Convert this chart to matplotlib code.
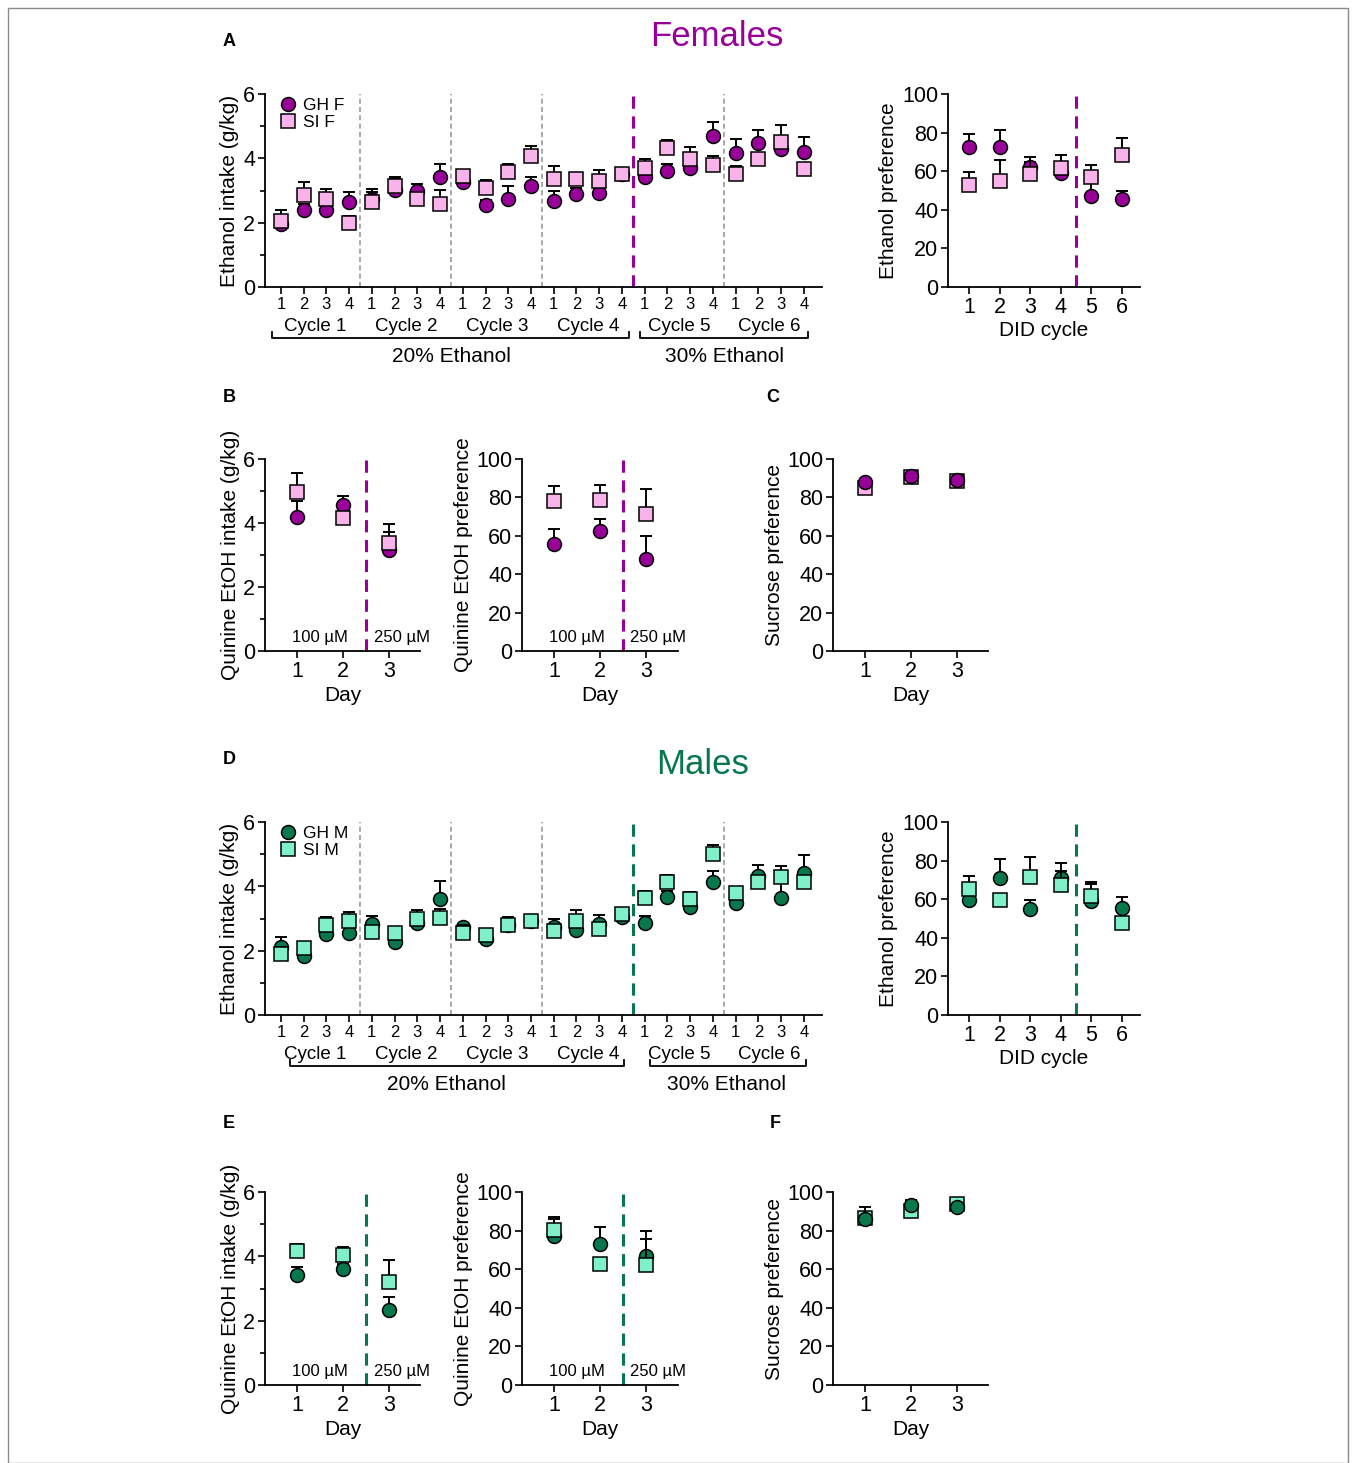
import numpy as np
import matplotlib
matplotlib.use("Agg")
import matplotlib.pyplot as plt
from matplotlib.lines import Line2D
from matplotlib.patches import Rectangle

plt.rcParams['font.family'] = ['Liberation Sans', 'DejaVu Sans']

# ---------------- data ----------------
day_labels = ["1", "2", "3", "4"] * 6
cycle_labels = ["Cycle 1", "Cycle 2", "Cycle 3", "Cycle 4", "Cycle 5", "Cycle 6"]
conc_labels = ["20% Ethanol", "30% Ethanol"]
did_cycles = [1, 2, 3, 4, 5, 6]
test_days = [1, 2, 3]
quinine_labels = ["100 µM", "250 µM"]

# Females - DID ethanol intake (g/kg), mean and upper SEM
f_gh_intake = [1.95, 2.39, 2.39, 2.63, 2.75, 3.01, 2.98, 3.41, 3.25, 2.55, 2.75, 3.14,
               2.66, 2.88, 2.93, 3.50, 3.43, 3.61, 3.69, 4.70, 4.16, 4.47, 4.29, 4.20]
f_gh_intake_err = [0.30, 0.20, 0.15, 0.33, 0.20, 0.34, 0.21, 0.41, 0.10, 0.15, 0.40, 0.27,
                   0.32, 0.20, 0.12, 0.10, 0.10, 0.22, 0.15, 0.44, 0.44, 0.42, 0.15, 0.46]
f_si_intake = [2.06, 2.86, 2.75, 2.00, 2.65, 3.14, 2.75, 2.58, 3.46, 3.08, 3.57, 4.07,
               3.35, 3.35, 3.30, 3.51, 3.69, 4.31, 3.97, 3.78, 3.50, 3.99, 4.50, 3.68]
f_si_intake_err = [0.33, 0.39, 0.31, 0.21, 0.41, 0.27, 0.15, 0.43, 0.15, 0.24, 0.26, 0.32,
                   0.42, 0.15, 0.33, 0.14, 0.29, 0.26, 0.39, 0.29, 0.27, 0.15, 0.54, 0.15]

# Females - ethanol preference per DID cycle
f_gh_pref = [72.7, 72.3, 62.0, 59.2, 47.1, 45.5]
f_gh_pref_err = [6.4, 9.0, 3.0, 4.5, 7.0, 4.2]
f_si_pref = [53.1, 54.8, 58.8, 61.4, 57.1, 68.3]
f_si_pref_err = [6.4, 10.9, 8.3, 7.1, 6.2, 8.7]

# Females - quinine adulterated ethanol
f_gh_quin = [4.18, 4.55, 3.15]
f_gh_quin_err = [0.52, 0.30, 0.57]
f_si_quin = [4.96, 4.16, 3.37]
f_si_quin_err = [0.61, 0.12, 0.59]
f_gh_quin_pref = [55.9, 62.3, 47.8]
f_gh_quin_pref_err = [7.8, 6.6, 11.9]
f_si_quin_pref = [77.9, 78.7, 71.5]
f_si_quin_pref_err = [8.1, 8.0, 12.9]

# Females - sucrose preference
f_gh_suc = [87.8, 91.2, 89.0]
f_gh_suc_err = [1.5, 1.5, 1.5]
f_si_suc = [85.1, 90.5, 88.5]
f_si_suc_err = [2.0, 1.5, 3.4]

# Males - DID ethanol intake (g/kg)
m_gh_intake = [2.11, 1.82, 2.52, 2.56, 2.83, 2.28, 2.87, 3.62, 2.73, 2.37, 2.81, 2.91,
               2.75, 2.63, 2.83, 3.06, 2.86, 3.67, 3.35, 4.13, 3.49, 4.32, 3.63, 4.43]
m_gh_intake_err = [0.30, 0.15, 0.15, 0.20, 0.25, 0.20, 0.20, 0.55, 0.10, 0.10, 0.20, 0.10,
                   0.24, 0.20, 0.29, 0.10, 0.22, 0.20, 0.15, 0.36, 0.15, 0.34, 0.55, 0.54]
m_si_intake = [1.90, 2.09, 2.81, 2.92, 2.58, 2.56, 2.99, 3.02, 2.54, 2.49, 2.81, 2.92,
               2.60, 2.91, 2.66, 3.14, 3.64, 4.15, 3.60, 5.02, 3.79, 4.13, 4.28, 4.13]
m_si_intake_err = [0.20, 0.17, 0.23, 0.28, 0.20, 0.16, 0.27, 0.26, 0.27, 0.19, 0.25, 0.12,
                   0.15, 0.36, 0.10, 0.20, 0.20, 0.21, 0.21, 0.27, 0.16, 0.20, 0.34, 0.15]

# Males - ethanol preference per DID cycle
m_gh_pref = [59.7, 70.9, 55.0, 70.9, 59.0, 55.4]
m_gh_pref_err = [3.0, 10.1, 4.7, 8.0, 8.7, 5.7]
m_si_pref = [65.1, 59.7, 71.5, 67.6, 61.9, 47.6]
m_si_pref_err = [6.9, 3.0, 10.2, 7.0, 6.8, 3.0]

# Males - quinine adulterated ethanol
m_gh_quin = [3.41, 3.62, 2.32]
m_gh_quin_err = [0.25, 0.15, 0.43]
m_si_quin = [4.18, 4.05, 3.20]
m_si_quin_err = [0.21, 0.23, 0.69]
m_gh_quin_pref = [77.3, 73.2, 66.6]
m_gh_quin_pref_err = [9.7, 8.6, 9.2]
m_si_quin_pref = [80.4, 62.6, 62.3]
m_si_quin_pref_err = [5.6, 3.0, 17.6]

# Males - sucrose preference
m_gh_suc = [86.1, 93.4, 92.2]
m_gh_suc_err = [6.1, 1.5, 1.5]
m_si_suc = [86.6, 90.1, 93.6]
m_si_suc_err = [1.5, 5.6, 1.0]

# ---------------- style ----------------
PURPLE = "#990099"
PINK = "#f8b4ea"
GREEN = "#08774c"
AQUA = "#80f0c8"
W, H = 1356, 1463
MS = 10


def add_ax(fig, x0, y0, x1, y1):
    # pixel box measured from the top-left corner of the image
    return fig.add_axes([x0 / W, 1 - y1 / H, (x1 - x0) / W, (y1 - y0) / H])


def style(ax, ylim, yticks, minor=None):
    for s in ["top", "right"]:
        ax.spines[s].set_visible(False)
    for s in ["left", "bottom"]:
        ax.spines[s].set_linewidth(1.3)
    ax.set_ylim(*ylim)
    ax.set_yticks(yticks)
    if minor is not None:
        ax.set_yticks(minor, minor=True)
    ax.tick_params(axis="both", which="major", length=5, width=1.2, labelsize=15.5, pad=2)
    ax.tick_params(axis="y", which="minor", length=3.5, width=1.2)


def series(ax, x, y, err, marker, color, z):
    ax.errorbar(x, y, yerr=[np.zeros(len(err)), err], fmt="none", ecolor="black",
                elinewidth=1.4, capsize=4.5, capthick=1.4, zorder=z, clip_on=False)
    ax.plot(x, y, ls="none", marker=marker, ms=MS, mfc=color, mec="black",
            mew=1.1, zorder=z + 0.5, clip_on=False)


def vdash(ax, xpos, color, lw, dashes):
    ax.plot([xpos, xpos], [0, 1], color=color, lw=lw, dashes=dashes,
            transform=ax.get_xaxis_transform(), zorder=1, clip_on=False)


def intake_panel(ax, gh, gh_err, si, si_err, c_gh, c_si, c_dash, names, brackets, text_x):
    x = np.arange(1, len(gh) + 1)
    style(ax, (0, 6), [0, 2, 4, 6], [1, 3, 5])
    ax.set_xlim(0.3, 24.8)
    ax.set_xticks(x)
    ax.set_xticklabels(day_labels)
    ax.tick_params(axis="x", labelsize=12, length=5, pad=2)
    for xs in [4.5, 8.5, 12.5, 20.5]:
        vdash(ax, xs, "#999999", 1.2, (3, 2))
    vdash(ax, 16.5, c_dash, 2.2, (4, 2.5))
    series(ax, x, gh, gh_err, "o", c_gh, 2)
    series(ax, x, si, si_err, "s", c_si, 4)
    ax.set_ylabel("Ethanol intake (g/kg)", fontsize=15, labelpad=3)
    tr = ax.get_xaxis_transform()
    for i, lab in enumerate(cycle_labels):
        ax.text(2.5 + 4 * i, -0.205, lab, transform=tr, ha="center", va="center",
                fontsize=13.5)
    for (xa, xb), tx, lab in zip(brackets, text_x, conc_labels):
        ax.plot([xa, xa, xb, xb], [-0.235, -0.265, -0.265, -0.235], color="black",
                lw=1.3, transform=tr, clip_on=False)
        ax.text(tx, -0.36, lab, transform=tr, ha="center", va="center", fontsize=15)
    handles = [Line2D([], [], ls="none", marker="o", ms=MS, mfc=c_gh, mec="black", mew=1.1),
               Line2D([], [], ls="none", marker="s", ms=MS, mfc=c_si, mec="black", mew=1.1)]
    ax.legend(handles, names, loc="upper left", bbox_to_anchor=(0.0, 1.045), frameon=False,
              fontsize=12.5, handletextpad=0.3, labelspacing=0.15, borderaxespad=0.3,
              handlelength=1.2)


def pref_panel(ax, gh, gh_err, si, si_err, c_gh, c_si, c_dash):
    style(ax, (0, 100), [0, 20, 40, 60, 80, 100])
    ax.set_xlim(0.31, 6.6)
    ax.set_xticks(did_cycles)
    vdash(ax, 4.5, c_dash, 2.2, (4, 2.5))
    series(ax, did_cycles, gh, gh_err, "o", c_gh, 2)
    series(ax, did_cycles, si, si_err, "s", c_si, 4)
    ax.set_ylabel("Ethanol preference", fontsize=15, labelpad=3)
    ax.set_xlabel("DID cycle", fontsize=15, labelpad=2)


def day_panel(ax, ylim, yticks, minor, gh, gh_err, si, si_err, c_gh, c_si, ylabel,
              c_dash=None, gh_top=False):
    style(ax, ylim, yticks, minor)
    ax.set_xticks(test_days)
    if c_dash is not None:
        vdash(ax, 2.5, c_dash, 2.2, (4, 2.5))
        tr = ax.get_xaxis_transform()
        ax.text(1.5, 0.07, quinine_labels[0], transform=tr, ha="center", va="center",
                fontsize=12)
        ax.text(3.27, 0.07, quinine_labels[1], transform=tr, ha="center", va="center",
                fontsize=12)
    if gh_top:
        series(ax, test_days, si, si_err, "s", c_si, 2)
        series(ax, test_days, gh, gh_err, "o", c_gh, 4)
    else:
        series(ax, test_days, gh, gh_err, "o", c_gh, 2)
        series(ax, test_days, si, si_err, "s", c_si, 4)
    ax.set_ylabel(ylabel, fontsize=15, labelpad=2)
    ax.set_xlabel("Day", fontsize=15, labelpad=3)


fig = plt.figure(figsize=(W / 100, H / 100), dpi=100)
fig.patches.append(Rectangle((8 / W, 0), (W - 16) / W, 1 - 8 / H, transform=fig.transFigure,
                             fill=False, edgecolor="#8a8a8a", lw=1.0))

fig.text(717 / W, 1 - 36 / H, "Females", color=PURPLE, fontsize=25, ha="center", va="center")
fig.text(703 / W, 1 - 765 / H, "Males", color=GREEN, fontsize=25, ha="center", va="center")
for lab, px, py in [("A", 229, 41), ("B", 229, 397), ("C", 773, 397),
                    ("D", 229, 760), ("E", 229, 1123), ("F", 775, 1123)]:
    fig.text(px / W, 1 - py / H, lab, fontsize=13, fontweight="bold", ha="center", va="center")

# Females
ax = add_ax(fig, 265, 94, 822, 287)
intake_panel(ax, f_gh_intake, f_gh_intake_err, f_si_intake, f_si_intake_err,
             PURPLE, PINK, PURPLE, ["GH F", "SI F"], [(0.6, 16.3), (16.8, 24.2)],
             [8.5, 20.5])
ax = add_ax(fig, 948, 94, 1140, 287)
pref_panel(ax, f_gh_pref, f_gh_pref_err, f_si_pref, f_si_pref_err, PURPLE, PINK, PURPLE)

ax = add_ax(fig, 265, 459, 420, 651)
ax.set_xlim(0.3, 3.67)
day_panel(ax, (0, 6), [0, 2, 4, 6], [1, 3, 5], f_gh_quin, f_gh_quin_err, f_si_quin,
          f_si_quin_err, PURPLE, PINK, "Quinine EtOH intake (g/kg)", PURPLE)
ax = add_ax(fig, 522, 459, 678, 651)
ax.set_xlim(0.3, 3.7)
day_panel(ax, (0, 100), [0, 20, 40, 60, 80, 100], None, f_gh_quin_pref, f_gh_quin_pref_err,
          f_si_quin_pref, f_si_quin_pref_err, PURPLE, PINK, "Quinine EtOH preference", PURPLE)
ax = add_ax(fig, 833, 459, 988, 651)
ax.set_xlim(0.3, 3.67)
day_panel(ax, (0, 100), [0, 20, 40, 60, 80, 100], None, f_gh_suc, f_gh_suc_err,
          f_si_suc, f_si_suc_err, PURPLE, PINK, "Sucrose preference", gh_top=True)

# Males
ax = add_ax(fig, 265, 822, 822, 1015)
intake_panel(ax, m_gh_intake, m_gh_intake_err, m_si_intake, m_si_intake_err,
             GREEN, AQUA, GREEN, ["GH M", "SI M"], [(1.4, 16.1), (17.25, 24.1)],
             [8.3, 20.6])
ax = add_ax(fig, 948, 822, 1140, 1015)
pref_panel(ax, m_gh_pref, m_gh_pref_err, m_si_pref, m_si_pref_err, GREEN, AQUA, GREEN)

ax = add_ax(fig, 265, 1192, 420, 1385)
ax.set_xlim(0.3, 3.67)
day_panel(ax, (0, 6), [0, 2, 4, 6], [1, 3, 5], m_gh_quin, m_gh_quin_err, m_si_quin,
          m_si_quin_err, GREEN, AQUA, "Quinine EtOH intake (g/kg)", GREEN)
ax = add_ax(fig, 522, 1192, 678, 1385)
ax.set_xlim(0.3, 3.7)
day_panel(ax, (0, 100), [0, 20, 40, 60, 80, 100], None, m_gh_quin_pref, m_gh_quin_pref_err,
          m_si_quin_pref, m_si_quin_pref_err, GREEN, AQUA, "Quinine EtOH preference", GREEN)
ax = add_ax(fig, 833, 1192, 988, 1385)
ax.set_xlim(0.3, 3.67)
day_panel(ax, (0, 100), [0, 20, 40, 60, 80, 100], None, m_gh_suc, m_gh_suc_err,
          m_si_suc, m_si_suc_err, GREEN, AQUA, "Sucrose preference", gh_top=True)

fig.savefig("out.png", dpi=100)
